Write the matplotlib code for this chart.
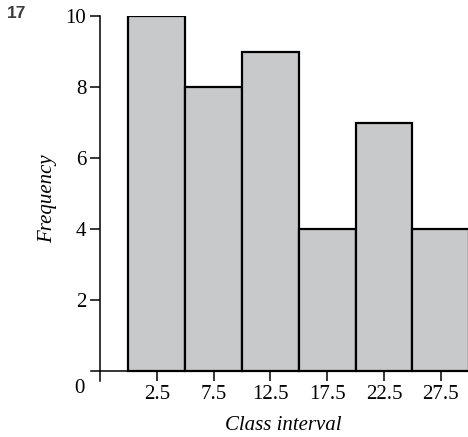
import matplotlib.pyplot as plt

# histogram data
mids = [2.5, 7.5, 12.5, 17.5, 22.5, 27.5]
freq = [10, 8, 9, 4, 7, 4]
width = 5
yticks = [2, 4, 6, 8, 10]

plt.rcParams['font.family'] = 'serif'
plt.rcParams['font.serif'] = ['Liberation Serif']

fig = plt.figure(figsize=(4.68, 4.37), dpi=100)
ax = fig.add_axes([91 / 468, 56 / 437, 377 / 468, 365 / 437])

ax.bar(mids, freq, width=width, color='#c8c9cb', edgecolor='black', linewidth=1.6)

ax.set_xlim(-3.3, 29.9)
ax.set_ylim(-0.28, 10)

for s in ['top', 'right']:
    ax.spines[s].set_visible(False)
ax.spines['left'].set_position(('data', -2.5))
ax.spines['bottom'].set_position(('data', 0))
ax.spines['left'].set_bounds(-0.28, 10)
ax.spines['bottom'].set_bounds(-3.3, 29.9)
ax.spines['left'].set_linewidth(1.1)
ax.spines['bottom'].set_linewidth(1.1)

ax.set_xticks(mids)
ax.set_xticklabels([str(m) for m in mids], fontsize=15)
ax.set_yticks(yticks)
ax.set_yticklabels([str(t) for t in yticks], fontsize=15)
ax.tick_params(axis='both', direction='out', length=7, width=1.1, pad=3)

ax.text(-3.9, -0.5, '0', fontsize=15, ha='right', va='center')

ax.set_xlabel('Class interval', fontsize=15, style='italic')
ax.set_ylabel('Frequency', fontsize=15, style='italic')
ax.yaxis.set_label_coords(-0.09, 0.5)
ax.xaxis.set_label_coords(0.51, -0.095)

fig.text(7 / 468, 1 - 14 / 437, '17', fontsize=12.5, fontweight='bold',
         color='#3c3c3c', family='Liberation Sans', va='center', ha='left')

fig.savefig('out.png', dpi=100)
